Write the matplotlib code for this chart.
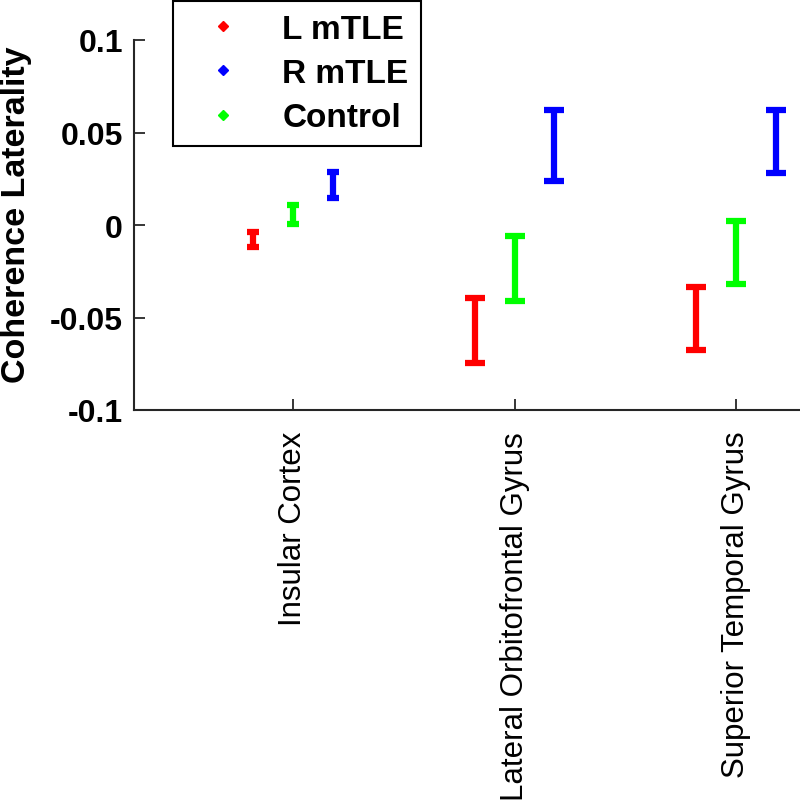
import numpy as np
import matplotlib.pyplot as plt
from matplotlib.lines import Line2D

plt.rcParams['font.family'] = ['Liberation Sans', 'DejaVu Sans']

regions = ['Insular Cortex', 'Lateral Orbitofrontal Gyrus', 'Superior Temporal Gyrus']
groups = ['L mTLE', 'R mTLE', 'Control']
colors = ['#ff0000', '#0000ff', '#00ff00']

# mean and error (half-length) per group, one value per region
l_mean = [-0.0080, -0.0570, -0.0505]
l_err = [0.0040, 0.0175, 0.0170]
r_mean = [0.0215, 0.0430, 0.0450]
r_err = [0.0070, 0.0190, 0.0170]
c_mean = [0.0058, -0.0235, -0.0150]
c_err = [0.0050, 0.0175, 0.0170]

means = [l_mean, r_mean, c_mean]
errs = [l_err, r_err, c_err]
offsets = [-0.18, 0.18, 0.0]
capsizes = [4, 7, 7]

fig = plt.figure(figsize=(8, 8.03), dpi=100)
ax = fig.add_axes([134/800, 1-411/803, 1-134/800, 370/803])

x = np.arange(1, len(regions) + 1)
for m, e, off, col in zip(means, errs, offsets, colors):
    for i in range(len(regions)):
        ax.errorbar(x[i] + off, m[i], yerr=e[i], fmt='.', color=col,
                    markersize=3, elinewidth=4.5, capsize=capsizes[i], capthick=4.5)

ax.set_xlim(0.28, 3.29)
ax.set_ylim(-0.1, 0.1)
ax.set_yticks([-0.1, -0.05, 0, 0.05, 0.1])
ax.set_yticklabels(['-0.1', '-0.05', '0', '0.05', '0.1'], fontsize=23, fontweight='bold')
ax.set_xticks(x)
ax.set_xticklabels(regions, rotation=90, fontsize=22.5, va='top', ha='center')
ax.tick_params(direction='in', length=8, width=1.3, colors='#262626', pad=8)
ax.tick_params(axis='x', pad=15)
for lab in ax.get_xticklabels() + ax.get_yticklabels():
    lab.set_color('black')
ax.set_ylabel('Coherence Laterality', fontsize=24.5, fontweight='bold')
ax.yaxis.set_label_coords(-0.153, 0.53)
ax.spines['top'].set_visible(False)
ax.spines['right'].set_visible(False)
for s in ['left', 'bottom']:
    ax.spines[s].set_linewidth(1.5)
    ax.spines[s].set_color('#262626')

handles = [Line2D([], [], marker='D', markersize=5, color=c, linestyle='none') for c in colors]
leg = ax.legend(handles, groups, loc='upper left', bbox_to_anchor=(173/800, 1-2/803),
                bbox_transform=fig.transFigure, borderaxespad=0, fancybox=False,
                edgecolor='black', framealpha=1, prop={'size': 24, 'weight': 'bold'},
                handletextpad=0.65, borderpad=0.38, labelspacing=0.4, handlelength=2.25)
leg.get_frame().set_linewidth(1.5)

fig.savefig('out.png', dpi=100)
